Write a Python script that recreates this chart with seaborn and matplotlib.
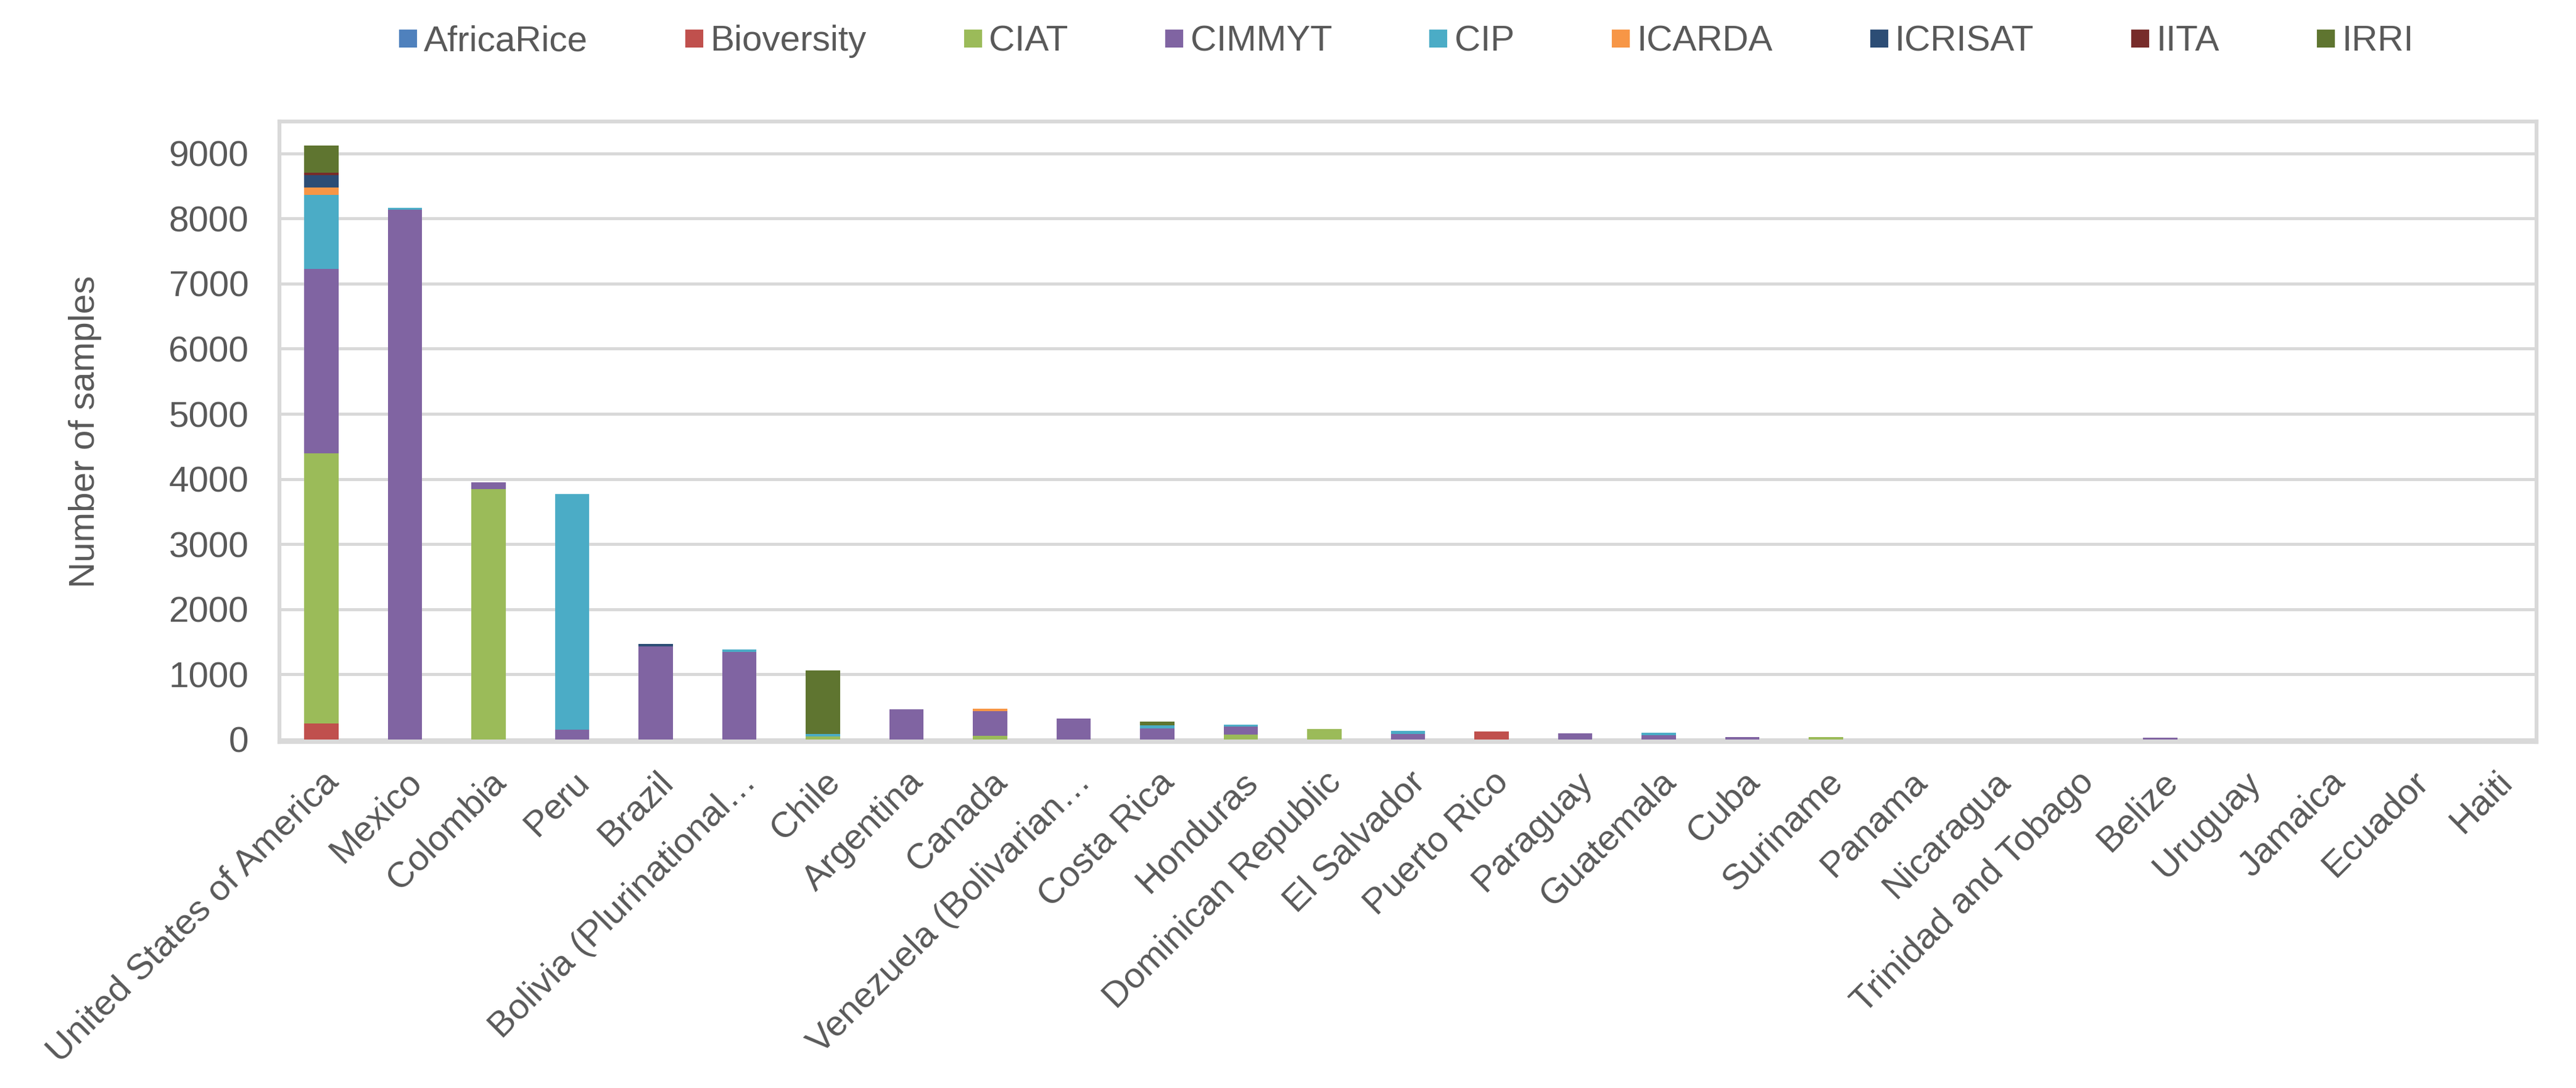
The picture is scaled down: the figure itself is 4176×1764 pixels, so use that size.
import pandas as pd
import matplotlib
matplotlib.use("Agg")
import matplotlib.pyplot as plt
from matplotlib.lines import Line2D
import seaborn as sns

# Data
countries = ["United States of America", "Mexico", "Colombia", "Peru", "Brazil",
             "Bolivia (Plurinational\u2026", "Chile", "Argentina", "Canada",
             "Venezuela (Bolivarian\u2026", "Costa Rica", "Honduras", "Dominican Republic",
             "El Salvador", "Puerto Rico", "Paraguay", "Guatemala", "Cuba", "Suriname",
             "Panama", "Nicaragua", "Trinidad and Tobago", "Belize", "Uruguay",
             "Jamaica", "Ecuador", "Haiti"]

centers = ["AfricaRice", "Bioversity", "CIAT", "CIMMYT", "CIP", "ICARDA", "ICRISAT", "IITA", "IRRI"]

africarice = [0, 0, 0, 0, 0, 0, 0, 0, 0, 0, 0, 0, 0, 0, 0, 0, 0, 0, 0, 0, 0, 0, 0, 0, 0, 0, 0]
bioversity = [240, 0, 0, 0, 0, 0, 0, 0, 0, 0, 0, 0, 0, 0, 125, 0, 0, 0, 0, 0, 0, 0, 0, 0, 0, 0, 0]
ciat = [4150, 0, 3840, 0, 0, 0, 45, 0, 55, 0, 0, 75, 160, 0, 0, 0, 0, 0, 40, 0, 0, 0, 0, 0, 0, 0, 0]
cimmyt = [2840, 8140, 110, 150, 1430, 1340, 0, 465, 375, 320, 165, 120, 0, 85, 0, 95, 60, 40, 0,
          0, 0, 0, 25, 0, 0, 0, 0]
cip = [1130, 20, 0, 3620, 0, 45, 35, 0, 0, 0, 55, 32, 0, 45, 0, 0, 40, 0, 0, 0, 0, 0, 0, 0, 0, 0, 0]
icarda = [120, 0, 0, 0, 0, 0, 0, 0, 40, 0, 0, 0, 0, 0, 0, 0, 0, 0, 0, 0, 0, 0, 0, 0, 0, 0, 0]
icrisat = [190, 0, 0, 0, 40, 0, 0, 0, 0, 0, 0, 0, 0, 0, 0, 0, 0, 0, 0, 0, 0, 0, 0, 0, 0, 0, 0]
iita = [30, 0, 0, 0, 0, 0, 0, 0, 0, 0, 0, 0, 0, 0, 0, 0, 0, 0, 0, 0, 0, 0, 0, 0, 0, 0, 0]
irri = [425, 0, 0, 0, 0, 0, 975, 0, 0, 0, 55, 0, 0, 0, 0, 0, 0, 0, 0, 0, 0, 0, 0, 0, 0, 0, 0]

colors = ["#4F81BD", "#C0504D", "#9BBB59", "#8064A2", "#4BACC6",
          "#F79646", "#2C4D75", "#772C2A", "#5F7530"]

series = [africarice, bioversity, ciat, cimmyt, cip, icarda, icrisat, iita, irri]
rows = []
for c, vals in zip(centers, series):
    for country, v in zip(countries, vals):
        rows.append({"country": country, "center": c, "n": v})
df = pd.DataFrame(rows)

sns.set_theme(style="white")
plt.rcParams["font.family"] = ["Liberation Sans", "DejaVu Sans"]
text_col = "#595959"
grid_col = "#D9D9D9"

fig = plt.figure(figsize=(13.92, 5.88), dpi=300)
ax = fig.add_axes([0.1085, 0.318, 0.8762, 0.5703])

# stacked bars; seaborn stacks the last hue level at the bottom
sns.histplot(data=df, x="country", hue="center", weights="n",
             hue_order=centers[::-1], palette=dict(zip(centers, colors)),
             multiple="stack", discrete=True, shrink=0.41,
             linewidth=0, alpha=1, legend=False, ax=ax, zorder=3)

ax.set_xlim(-0.5, len(countries) - 0.5)
ax.set_ylim(-40, 9490)
ax.set_yticks(range(0, 9001, 1000))
ax.yaxis.grid(True, color=grid_col, linewidth=1.2, zorder=0)
ax.set_axisbelow(True)
for s in ax.spines.values():
    s.set_color(grid_col)
    s.set_linewidth(1.5)

ax.set_xticks(range(len(countries)))
ax.set_xticklabels(countries, rotation=45, ha="right", va="top",
                   rotation_mode="anchor", fontsize=14, color=text_col)
ax.tick_params(axis="x", length=0, pad=9)
ax.tick_params(axis="y", length=0, pad=12, labelsize=14, labelcolor=text_col)
ax.set_xlabel("")
ax.set_ylabel("Number of samples", fontsize=14, color=text_col, labelpad=26)

handles = [Line2D([0], [0], marker="s", linestyle="", markersize=6,
                  markerfacecolor=col, markeredgecolor=col) for col in colors]
fig.legend(handles, centers, loc="center", bbox_to_anchor=(0.5455, 0.962),
           ncol=9, frameon=False, fontsize=14, handlelength=0.6,
           handletextpad=0.15, columnspacing=2.65, labelcolor=text_col)

fig.savefig("out.png", dpi=300)
